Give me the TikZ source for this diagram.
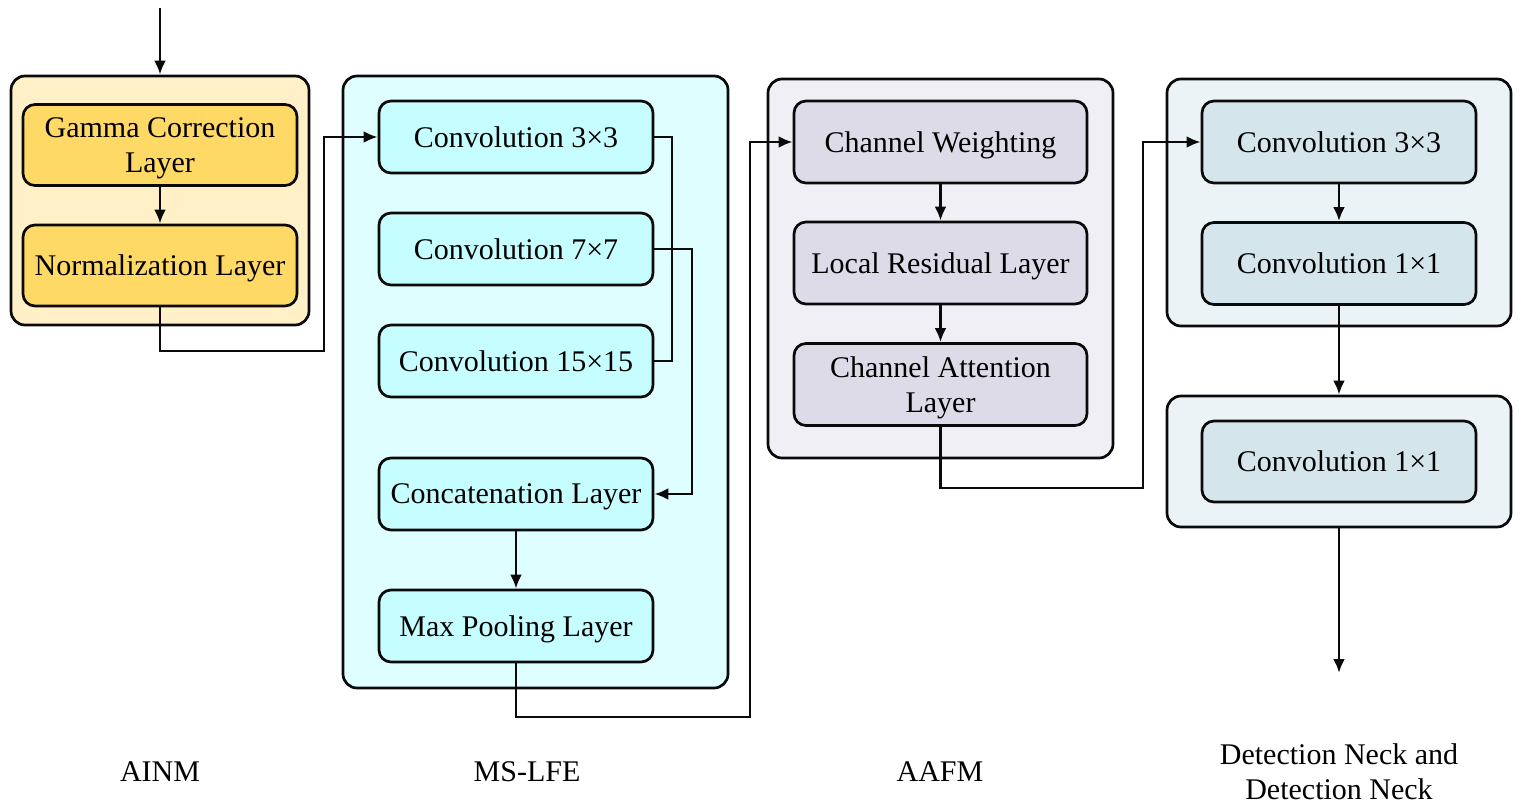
\documentclass[tikz,border=0pt]{standalone}
\usepackage{fontspec}
\setmainfont{Liberation Serif}
\usepackage{tikz}
\usepackage{xcolor}
\usetikzlibrary{arrows.meta,calc,positioning}
\definecolor{LineCol}{RGB}{10,10,10}
\definecolor{AinmOut}{RGB}{255,240,199}
\definecolor{AinmIn}{RGB}{255,217,102}
\definecolor{LfeOut}{RGB}{222,254,255}
\definecolor{LfeIn}{RGB}{198,254,255}
\definecolor{AafmOut}{RGB}{240,239,245}
\definecolor{AafmIn}{RGB}{222,219,233}
\definecolor{NeckOut}{RGB}{235,243,247}
\definecolor{NeckIn}{RGB}{213,229,236}
\tikzset{
  nkflow/.style={-{Latex[length=7pt,width=6pt]}, line width=1.45pt, draw=LineCol},
  nkwire/.style={line width=1.45pt, draw=LineCol},
  nkgroup/.style={draw=LineCol, line width=1.35pt, rounded corners=7pt, inner sep=0pt},
  nklayer/.style={draw=LineCol, line width=1.35pt, rounded corners=6pt, inner sep=0pt,
    minimum width=137pt, align=center, text depth=0pt, font=\fontsize{15}{17.5}\selectfont},
  nkcap/.style={font=\fontsize{15}{17.5}\selectfont, align=center, inner sep=0pt}
}

\begin{document}
\begin{tikzpicture}[x=0.5pt,y=-0.5pt]
  \useasboundingbox (0,0) rectangle (1522,809);
  % group frames
  \node[nkgroup, fill=AinmOut, minimum width=149pt, minimum height=124.5pt] (ainm) at (160,200.5) {};
  \node[nkgroup, fill=LfeOut, minimum width=192.5pt, minimum height=306pt] (lfe) at (535.5,382) {};
  \node[nkgroup, fill=AafmOut, minimum width=172.5pt, minimum height=189.5pt] (aafm) at (940.5,268.5) {};
  \node[nkgroup, fill=NeckOut, minimum width=172pt, minimum height=123.5pt] (necka) at (1339,202.5) {};
  \node[nkgroup, fill=NeckOut, minimum width=172pt, minimum height=65.5pt] (neckb) at (1339,461.5) {};
  % AINM
  \node[nklayer, fill=AinmIn, minimum height=40.5pt] (gamma) at (160,145) {Gamma Correction\\Layer};
  \node[nklayer, fill=AinmIn, minimum height=40.5pt] (norm) at (160,265.5) {Normalization Layer};
  % MS-LFE
  \node[nklayer, fill=LfeIn, minimum height=36pt] (conva) at (516,137) {Convolution 3×3};
  \node[nklayer, fill=LfeIn, minimum height=36pt] (convb) at (516,249) {Convolution 7×7};
  \node[nklayer, fill=LfeIn, minimum height=36pt] (convc) at (516,361) {Convolution 15×15};
  \node[nklayer, fill=LfeIn, minimum height=36pt] (concat) at (516,494) {Concatenation Layer};
  \node[nklayer, fill=LfeIn, minimum height=36pt] (pool) at (516,626) {Max Pooling Layer};
  % AAFM
  \node[nklayer, fill=AafmIn, minimum width=146.5pt, minimum height=41pt] (cweight) at (940.5,142) {Channel Weighting};
  \node[nklayer, fill=AafmIn, minimum width=146.5pt, minimum height=41pt] (resid) at (940.5,263) {Local Residual Layer};
  \node[nklayer, fill=AafmIn, minimum width=146.5pt, minimum height=41pt] (catt) at (940.5,384.5) {Channel Attention\\Layer};
  % neck
  \node[nklayer, fill=NeckIn, minimum height=41pt] (nconva) at (1339,142) {Convolution 3×3};
  \node[nklayer, fill=NeckIn, minimum height=41pt] (nconvb) at (1339,263.5) {Convolution 1×1};
  \node[nklayer, fill=NeckIn, minimum height=40.5pt] (nconvc) at (1339,461.5) {Convolution 1×1};
  % captions
  \node[nkcap] (capa) at (160,772) {AINM};
  \node[nkcap] (capb) at (527,772) {MS-LFE};
  \node[nkcap] (capc) at (940,772) {AAFM};
  \node[nkcap] (capd) at (1339,772) {Detection Neck and\\Detection Neck};
  % turning points
  \coordinate (inp) at (160,8);
  \coordinate (out) at (1339,673);
  \coordinate (ja) at (324,351);
  \coordinate (jb) at (672,300);
  \coordinate (jc) at (692,400);
  \coordinate (jd) at (750,717);
  \coordinate (je) at (1143,488);
  % connectors
  \draw[nkflow] (inp) -- (ainm.north);
  \draw[nkflow] (gamma) -- (norm);
  \draw[nkflow] (norm.south) |- (ja) |- (conva.west);
  \draw[nkwire] (conva.east) -| (jb) |- (convc.east);
  \draw[nkflow] (convb.east) -| (jc) |- (concat.east);
  \draw[nkflow] (concat) -- (pool);
  \draw[nkflow] (pool.south) |- (jd) |- (cweight.west);
  \draw[nkflow] (cweight) -- (resid);
  \draw[nkflow] (resid) -- (catt);
  \draw[nkflow] (catt.south) |- (je) |- (nconva.west);
  \draw[nkflow] (nconva) -- (nconvb);
  \draw[nkflow] (nconvb) -- (neckb.north);
  \draw[nkflow] (neckb.south) -- (out);
\end{tikzpicture}
\end{document}
